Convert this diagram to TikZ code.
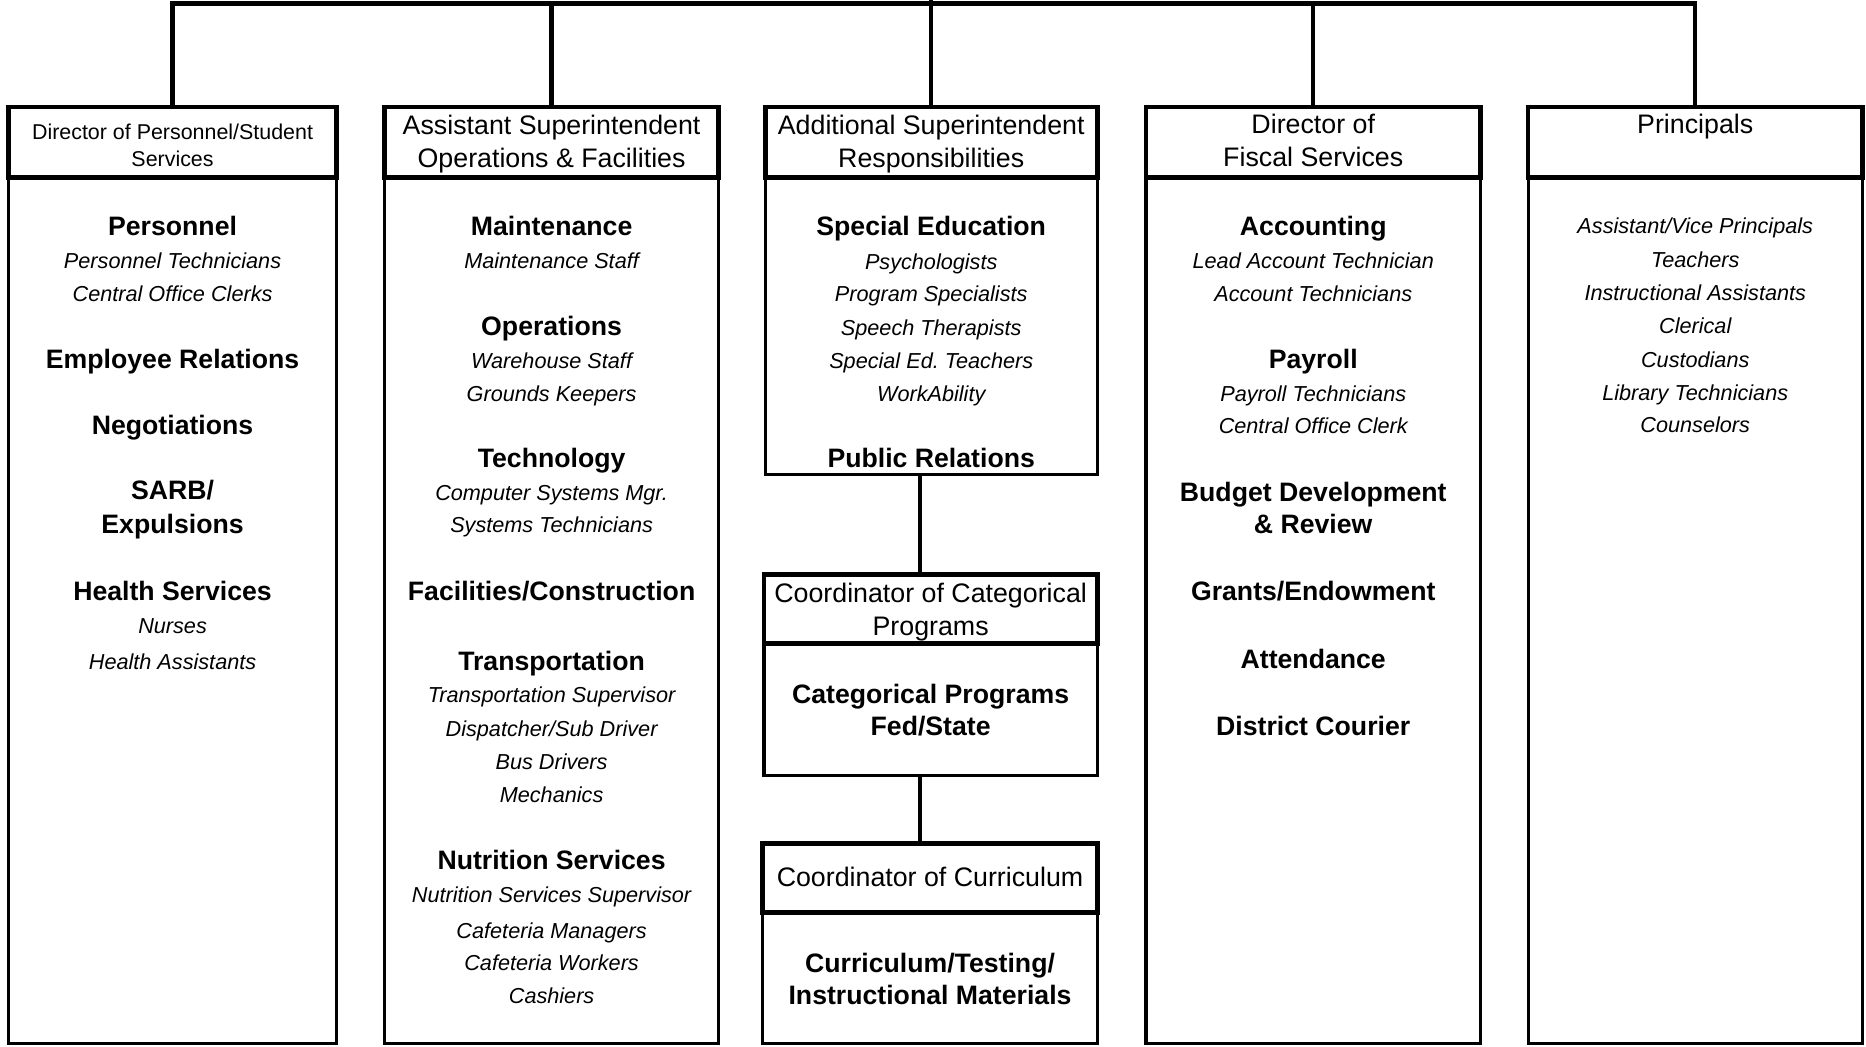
\documentclass[tikz,border=0pt]{standalone}
\usepackage{fontspec}
\setmainfont{Liberation Sans}
\frenchspacing
% font sizes for the chart
\newcommand\fHd{\fontsize{11.25}{14}\selectfont}
\newcommand\fSm{\fontsize{9}{11}\selectfont}
\newcommand\fBd{\fontsize{11.2}{14}\selectfont\bfseries}
\newcommand\fIt{\fontsize{9.1}{14}\selectfont\itshape}
% a box given by its corners: name, x1, y1, x2, y2, style
\newcommand\orgbox[6]{\node[#6, minimum width={(#4-#2)*0.5pt}, minimum height={(#5-#3)*0.5pt}] (#1) at ({(#2+#4)/2},{(#3+#5)/2}) {};}
% a column of text lines: x, prefix, list of font/text/baseline
\newcommand\orglines[3]{\foreach \ff/\tt/\yy [count=\k] in {#3} {\node[txt, font=\ff] (#2-\k) at (#1,\yy) {\tt};}}
\begin{document}
\begin{tikzpicture}[x=0.5pt,y=-0.5pt,
  hdr/.style={draw, line width=2pt, inner sep=0},
  bdy/.style={draw, line width=1.3pt, inner sep=0},
  link/.style={line width=1.8pt, line join=miter},
  txt/.style={anchor=base, inner sep=0}]
\useasboundingbox (0,0) rectangle (1568,879);

% column boxes
\orgbox{b1}{7}{149}{283}{877}{bdy}
\orgbox{h1}{7}{90}{283}{149}{hdr}
\orgbox{b2}{323}{149}{604}{877}{bdy}
\orgbox{h2}{323}{90}{604}{149}{hdr}
\orgbox{b3}{643}{149}{922}{399}{bdy}
\orgbox{h3}{643}{90}{922}{149}{hdr}
\orgbox{b4}{963}{149}{1244}{877}{bdy}
\orgbox{h4}{963}{90}{1244}{149}{hdr}
\orgbox{b5}{1284}{149}{1565}{877}{bdy}
\orgbox{h5}{1284}{90}{1565}{149}{hdr}
% coordinator boxes under the middle column
\orgbox{bc}{642}{541}{922}{652}{bdy}
\orgbox{hc}{642}{483}{922}{541}{hdr}
\orgbox{bk}{641}{767}{922}{877}{bdy}
\orgbox{hk}{641}{709}{922}{767}{hdr}

% connectors
\coordinate (bar) at (783,3);
\coordinate (stub) at (783,0);
\coordinate (mid) at (773,0);
\draw[link] (h1.north) -- (h1.north |- bar) -- (h5.north |- bar) -- (h5.north);
\draw[link] (h2.north) -- (h2.north |- bar);
\draw[link] (h3.north) -- (h3.north |- stub);
\draw[link] (h4.north) -- (h4.north |- bar);
\draw[link] (b3.south -| mid) -- (hc.north -| mid);
\draw[link] (bc.south -| mid) -- (hk.north -| mid);

% headers
\orglines{145}{t1}{\fSm/{Director of Personnel/Student}/117.5, \fSm/Services/139.5}
\orglines{463.5}{t2}{\fHd/Assistant Superintendent/113, \fHd/Operations \& Facilities/141}
\orglines{782.5}{t3}{\fHd/Additional Superintendent/113, \fHd/Responsibilities/141}
\orglines{1103.5}{t4}{\fHd/Director of/112, \fHd/Fiscal Services/140}
\orglines{1424.5}{t5}{\fHd/Principals/112}
\orglines{782}{tc}{\fHd/Coordinator of Categorical/506, \fHd/Programs/534}
\orglines{781.5}{tk}{\fHd/Coordinator of Curriculum/745}

% column contents
\orglines{145}{c1}{\fBd/Personnel/198, \fIt/Personnel Technicians/225.5, \fIt/Central Office Clerks/253.5,
  \fBd/Employee Relations/310, \fBd/Negotiations/365, \fBd/{SARB/}/420, \fBd/Expulsions/448,
  \fBd/Health Services/505, \fIt/Nurses/532.5, \fIt/Health Assistants/562.5}
\orglines{463.5}{c2}{\fBd/Maintenance/198, \fIt/Maintenance Staff/225.5,
  \fBd/Operations/282, \fIt/Warehouse Staff/309.5, \fIt/Grounds Keepers/337.5,
  \fBd/Technology/393, \fIt/Computer Systems Mgr./420.5, \fIt/Systems Technicians/447.5,
  \fBd/{Facilities/Construction}/505,
  \fBd/Transportation/563, \fIt/Transportation Supervisor/590.5, \fIt/{Dispatcher/Sub Driver}/618.5,
  \fIt/Bus Drivers/646.5, \fIt/Mechanics/674.5,
  \fBd/Nutrition Services/731, \fIt/Nutrition Services Supervisor/758.5, \fIt/Cafeteria Managers/788.5,
  \fIt/Cafeteria Workers/815.5, \fIt/Cashiers/843.5}
\orglines{782.5}{c3}{\fBd/Special Education/198, \fIt/Psychologists/226.5, \fIt/Program Specialists/253.5,
  \fIt/Speech Therapists/281.5, \fIt/Special Ed. Teachers/309.5, \fIt/WorkAbility/337.5,
  \fBd/Public Relations/393}
\orglines{782}{cc}{\fBd/Categorical Programs/591, \fBd/{Fed/State}/618}
\orglines{781.5}{ck}{\fBd/{Curriculum/Testing/}/817, \fBd/Instructional Materials/844}
\orglines{1103.5}{c4}{\fBd/Accounting/198, \fIt/Lead Account Technician/225.5, \fIt/Account Technicians/253.5,
  \fBd/Payroll/310, \fIt/Payroll Technicians/337.5, \fIt/Central Office Clerk/364.5,
  \fBd/Budget Development/421, \fBd/\& Review/448, \fBd/{Grants/Endowment}/505,
  \fBd/Attendance/562, \fBd/District Courier/618}
\orglines{1424.5}{c5}{\fIt/{Assistant/Vice Principals}/196.5, \fIt/Teachers/224.5, \fIt/Instructional Assistants/252.5,
  \fIt/Clerical/280.5, \fIt/Custodians/308.5, \fIt/Library Technicians/336.5, \fIt/Counselors/363.5}
\end{tikzpicture}
\end{document}
